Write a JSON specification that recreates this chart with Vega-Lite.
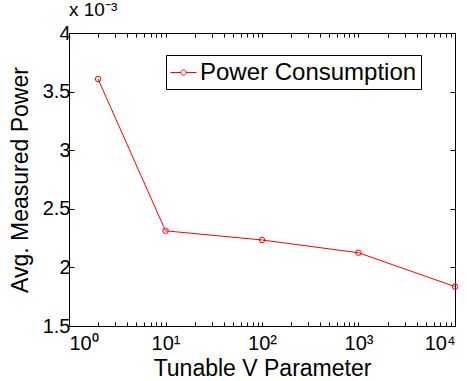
{
  "$schema": "https://vega.github.io/schema/vega-lite/v6.json",
  "autosize": "none",
  "width": 386,
  "height": 293,
  "padding": {"left": 69, "top": 33, "right": 12, "bottom": 55},
  "background": "white",
  "config": {
    "view": {"stroke": "black", "strokeWidth": 1},
    "font": "Liberation Sans",
    "axis": {"domain": false, "grid": false, "labelColor": "black", "titleColor": "black", "labelFont": "Liberation Sans", "titleFont": "Liberation Sans", "titleFontWeight": "normal", "labelFontSize": 20, "titleFontSize": 23, "labelOverlap": false, "tickColor": "black", "tickWidth": 1}
  },
  "title": {"text": "x 10⁻³", "anchor": "start", "frame": "group", "fontSize": 19, "fontWeight": "normal", "font": "Liberation Sans", "color": "black", "offset": 3},
  "data": {"values": [
    {"v": 2, "power": 0.003608},
    {"v": 10, "power": 0.002312},
    {"v": 100, "power": 0.002234},
    {"v": 1000, "power": 0.002125},
    {"v": 10000, "power": 0.001836}
  ]},
  "layer": [
    {
      "mark": {"type": "line", "strokeWidth": 1},
      "encoding": {
        "x": {"field": "v", "type": "quantitative", "scale": {"type": "log", "domain": [1, 10000], "nice": false},
          "axis": {"orient": "bottom", "title": "Tunable V Parameter", "titlePadding": 4,
            "values": [1,2,3,4,5,6,7,8,9,10,20,30,40,50,60,70,80,90,100,200,300,400,500,600,700,800,900,1000,2000,3000,4000,5000,6000,7000,8000,9000,10000],
            "labelExpr": "datum.value==1?'10⁰':datum.value==10?'10¹':datum.value==100?'10²':datum.value==1000?'10³':datum.value==10000?'10⁴':''",
            "tickSize": 4, "offset": -4,
            "labelPadding": 7}},
        "y": {"field": "power", "type": "quantitative", "scale": {"domain": [0.0015, 0.004], "nice": false, "zero": false},
          "axis": {"orient": "left", "title": "Avg. Measured Power", "values": [0.0015, 0.002, 0.0025, 0.003, 0.0035, 0.004],
            "labelExpr": "format(datum.value*1000, '~g')", "tickSize": -5, "labelPadding": 4, "titlePadding": 10}},
        "color": {"datum": "Power Consumption", "type": "nominal", "scale": {"range": ["#ff0000"]},
          "legend": {"title": null, "orient": "none", "legendX": 97, "legendY": 22, "strokeColor": "black", "fillColor": "white", "padding": 4,
            "labelFontSize": 24, "labelFont": "Liberation Sans", "labelColor": "black", "labelOffset": 3, "labelLimit": 400,
            "symbolType": "M-1,0H-0.2M0.2,0H1M0.2,0A0.2,0.2 0 1,1 -0.2,0A0.2,0.2 0 1,1 0.2,0", "symbolSize": 676, "symbolStrokeWidth": 1, "symbolStrokeColor": "#ff0000", "symbolFillColor": "transparent"}}
      }
    },
    {
      "mark": {"type": "point", "shape": "circle", "filled": false, "size": 30, "color": "#ff0000", "strokeWidth": 1, "opacity": 1},
      "encoding": {
        "x": {"field": "v", "type": "quantitative",
          "axis": {"orient": "top", "title": null, "labels": false,
            "values": [1,2,3,4,5,6,7,8,9,10,20,30,40,50,60,70,80,90,100,200,300,400,500,600,700,800,900,1000,2000,3000,4000,5000,6000,7000,8000,9000,10000],
            "tickSize": 4, "offset": -4}},
        "y": {"field": "power", "type": "quantitative",
          "axis": {"orient": "right", "title": null, "labels": false, "values": [0.0015, 0.002, 0.0025, 0.003, 0.0035, 0.004], "tickSize": 5, "offset": -5}}
      }
    }
  ],
  "resolve": {"axis": {"x": "independent", "y": "independent"}}
}
